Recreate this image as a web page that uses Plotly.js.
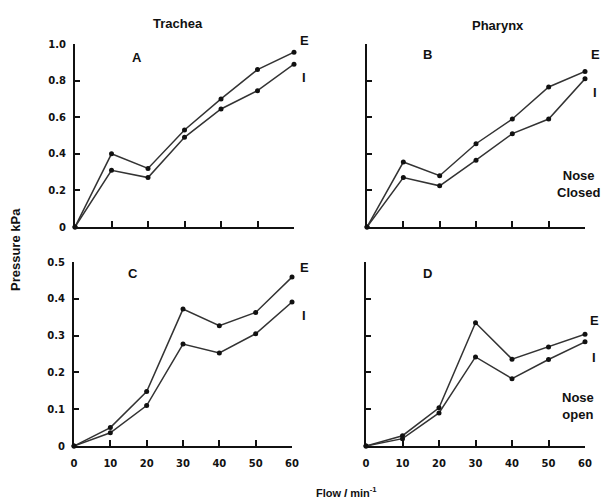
<!DOCTYPE html>
<html>
<head>
<meta charset="utf-8">
<script src="https://cdn.plot.ly/plotly-3.0.1.min.js"></script>
<style>html,body{margin:0;padding:0;background:#fff;}#chart{width:606px;height:503px;}</style>
</head>
<body>
<div id="chart"></div>
<script>
// Flow (l/min)
const flow = [0, 10, 20, 30, 40, 50, 60];
// Nose closed
const tracheaClosedE = [0, 0.40, 0.32, 0.53, 0.70, 0.86, 0.955];
const tracheaClosedI = [0, 0.31, 0.27, 0.49, 0.645, 0.745, 0.89];
const pharynxClosedE = [0, 0.355, 0.28, 0.455, 0.59, 0.765, 0.85];
const pharynxClosedI = [0, 0.27, 0.225, 0.365, 0.51, 0.59, 0.81];
// Nose open
const tracheaOpenE = [0, 0.05, 0.148, 0.372, 0.327, 0.363, 0.459];
const tracheaOpenI = [0, 0.036, 0.11, 0.277, 0.253, 0.305, 0.391];
const pharynxOpenE = [0, 0.028, 0.104, 0.335, 0.236, 0.269, 0.304];
const pharynxOpenI = [0, 0.02, 0.09, 0.242, 0.183, 0.235, 0.283];
// tick labels
const flowTicks = ["0", "10", "20", "30", "40", "50", "60"];
const closedYVals = [0, 0.2, 0.4, 0.6, 0.8, 1.0];
const closedYText = ["0", "0.2", "0.4", "0.6", "0.8", "1.0"];
const openYVals = [0, 0.1, 0.2, 0.3, 0.4, 0.5];
const openYText = ["0", "0.1", "0.2", "0.3", "0.4", "0.5"];

const W = 606, H = 503;
const fx = p => p / W;
const fy = p => 1 - p / H;
const FAM = 'Liberation Sans, Arial, sans-serif';

function tr(x, y, xa, ya) {
  return {
    x: x, y: y, xaxis: xa, yaxis: ya, type: 'scatter', mode: 'lines+markers',
    line: {color: '#333', width: 1.5},
    marker: {color: '#111', size: 5, symbol: 'circle'},
    cliponaxis: false, showlegend: false, hoverinfo: 'x+y'
  };
}

const data = [
  tr(flow, tracheaClosedE, 'x', 'y'),
  tr(flow, tracheaClosedI, 'x', 'y'),
  tr(flow, pharynxClosedE, 'x2', 'y2'),
  tr(flow, pharynxClosedI, 'x2', 'y2'),
  tr(flow, tracheaOpenE, 'x3', 'y3'),
  tr(flow, tracheaOpenI, 'x3', 'y3'),
  tr(flow, pharynxOpenE, 'x4', 'y4'),
  tr(flow, pharynxOpenI, 'x4', 'y4')
];

const tickFont = {family: 'DejaVu Sans, sans-serif', size: 10, color: '#111', weight: 'bold'};

function xax(domain, anchor, labels) {
  return {
    domain: domain, anchor: anchor, range: [0, 60], showgrid: false, zeroline: false,
    showline: true, linecolor: '#111', linewidth: 2,
    ticks: 'inside', ticklen: 6, tickwidth: 2, tickcolor: '#111',
    tickmode: 'array', tickvals: flow, ticktext: flowTicks,
    showticklabels: labels, tickfont: tickFont, fixedrange: true, ticklabelstandoff: 7
  };
}
function yax(domain, anchor, range, vals, text, labels) {
  return {
    domain: domain, anchor: anchor, range: range, showgrid: false, zeroline: false,
    showline: true, linecolor: '#111', linewidth: 2,
    ticks: 'inside', ticklen: 5, tickwidth: 2, tickcolor: '#111',
    tickmode: 'array', tickvals: vals, ticktext: text,
    showticklabels: labels, tickfont: tickFont, fixedrange: true, ticklabelstandoff: 5
  };
}

const ann = (text, x, y, size, extra) => Object.assign({
  text: text, x: fx(x), y: fy(y), xref: 'paper', yref: 'paper', showarrow: false,
  font: {family: FAM, size: size, color: '#111', weight: 'bold'},
  xanchor: 'center', yanchor: 'middle'
}, extra || {});

const layout = {
  width: W, height: H, margin: {l: 0, r: 0, t: 0, b: 0},
  paper_bgcolor: '#fff', plot_bgcolor: 'rgba(0,0,0,0)', showlegend: false,
  xaxis: xax([fx(75), fx(294)], 'y', false),
  yaxis: yax([fy(227), fy(44)], 'x', [0, 1.0], closedYVals, closedYText, true),
  xaxis2: xax([fx(367), fx(585)], 'y2', false),
  yaxis2: yax([fy(227), fy(44)], 'x2', [0, 1.0], closedYVals, closedYText, false),
  xaxis3: xax([fx(74), fx(292)], 'y3', true),
  yaxis3: yax([fy(446), fy(262)], 'x3', [0, 0.5], openYVals, openYText, true),
  xaxis4: xax([fx(366), fx(585)], 'y4', true),
  yaxis4: yax([fy(446), fy(262)], 'x4', [0, 0.5], openYVals, openYText, false),
  annotations: [
    ann('Trachea', 178, 23, 13),
    ann('Pharynx', 498, 26, 13),
    ann('A', 137, 57, 13),
    ann('B', 427, 55, 13),
    ann('C', 133, 273, 13),
    ann('D', 427, 273, 13),
    ann('E', 304, 40, 13),
    ann('I', 304, 77, 13),
    ann('E', 595, 55, 13),
    ann('I', 595, 92, 13),
    ann('E', 304, 267, 13),
    ann('I', 304, 315, 13),
    ann('E', 594, 320, 13),
    ann('I', 594, 357, 13),
    ann('Nose<br>Closed', 578, 184, 13),
    ann('Nose<br>open', 578, 406, 13),
    ann('Pressure kPa', 15, 250, 13, {textangle: -90}),
    ann('Flow <i>l</i> min<sup>-1</sup>', 346, 492, 11)
  ]
};

Plotly.newPlot('chart', data, layout, {staticPlot: true, displayModeBar: false});
</script>
</body>
</html>
